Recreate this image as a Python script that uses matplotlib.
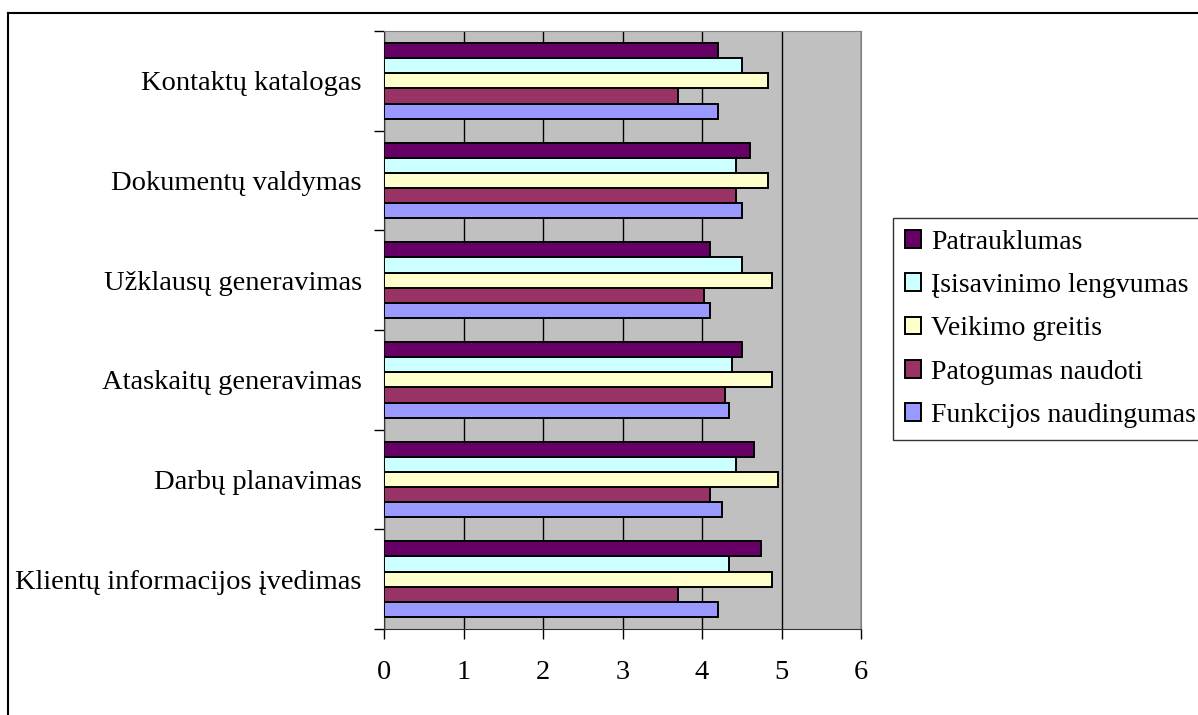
import numpy as np
import matplotlib
matplotlib.use('Agg')
import matplotlib.pyplot as plt
from matplotlib.lines import Line2D

plt.rcParams['font.family'] = ['Liberation Serif', 'DejaVu Serif']

# categories listed bottom to top
categories = [
    "Klientų informacijos įvedimas",
    "Darbų planavimas",
    "Ataskaitų generavimas",
    "Užklausų generavimas",
    "Dokumentų valdymas",
    "Kontaktų katalogas",
]
series_names = [
    "Funkcijos naudingumas",
    "Patogumas naudoti",
    "Veikimo greitis",
    "Įsisavinimo lengvumas",
    "Patrauklumas",
]
funkcijos = [4.20, 4.25, 4.34, 4.10, 4.50, 4.20]
patogumas = [3.70, 4.10, 4.29, 4.03, 4.43, 3.70]
veikimo = [4.88, 4.95, 4.88, 4.88, 4.83, 4.83]
isisavinimo = [4.34, 4.43, 4.38, 4.50, 4.43, 4.50]
patrauklumas = [4.74, 4.65, 4.50, 4.10, 4.60, 4.20]
series_values = [funkcijos, patogumas, veikimo, isisavinimo, patrauklumas]
colors = ['#9999FF', '#993366', '#FFFFCC', '#CCFFFF', '#660066']

fig = plt.figure(figsize=(11.98, 7.15), dpi=100)
ax = fig.add_axes([384 / 1198, 1 - 629 / 715, (861 - 384) / 1198, (629 - 31) / 715])
ax.set_facecolor('#C0C0C0')

y = np.arange(len(categories))
h = 0.152
handles = []
for i, (name, vals, col) in enumerate(zip(series_names, series_values, colors)):
    b = ax.barh(y + (i - 2) * h, vals, height=h, color=col, edgecolor='black',
                linewidth=1.4, label=name, zorder=3)
    handles.append(b)

ax.set_xlim(0, 6)
ax.set_ylim(-0.5, len(categories) - 0.5)
ax.set_xticks(range(7))
ax.set_xticklabels([str(v) for v in range(7)], fontsize=20.5)
ax.set_yticks(y)
ax.set_yticklabels(categories, fontsize=20.5)
ax.set_yticks(np.arange(-0.5, len(categories), 1.0), minor=True)
ax.tick_params(axis='y', which='major', length=0, pad=16)
ax.tick_params(axis='y', which='minor', length=7, width=1, direction='out')
ax.tick_params(axis='x', length=7, width=1, direction='out', pad=15)
ax.xaxis.grid(True, color='black', linewidth=1, zorder=1)
ax.set_axisbelow(True)
for side in ['top', 'right']:
    ax.spines[side].set_color('#808080')
for side in ['left', 'bottom']:
    ax.spines[side].set_color('#333333')

leg = ax.legend(handles[::-1], series_names[::-1], loc='upper left',
                bbox_to_anchor=(893 / 1198, 1 - 218 / 715), bbox_transform=fig.transFigure,
                fontsize=20, frameon=True, fancybox=False, edgecolor='black',
                borderaxespad=0, handlelength=0.6, handleheight=0.6, handletextpad=0.36,
                labelspacing=0.66, borderpad=0.42)
leg.get_frame().set_linewidth(1.0)

# outer chart frame (only top and left edges fall inside the image)
fig.add_artist(Line2D([8 / 1198, 1.05], [1 - 13 / 715] * 2, transform=fig.transFigure,
                      color='black', linewidth=1.5))
fig.add_artist(Line2D([8 / 1198] * 2, [-0.05, 1 - 13 / 715], transform=fig.transFigure,
                      color='black', linewidth=1.5))

fig.savefig('out.png', dpi=100)
